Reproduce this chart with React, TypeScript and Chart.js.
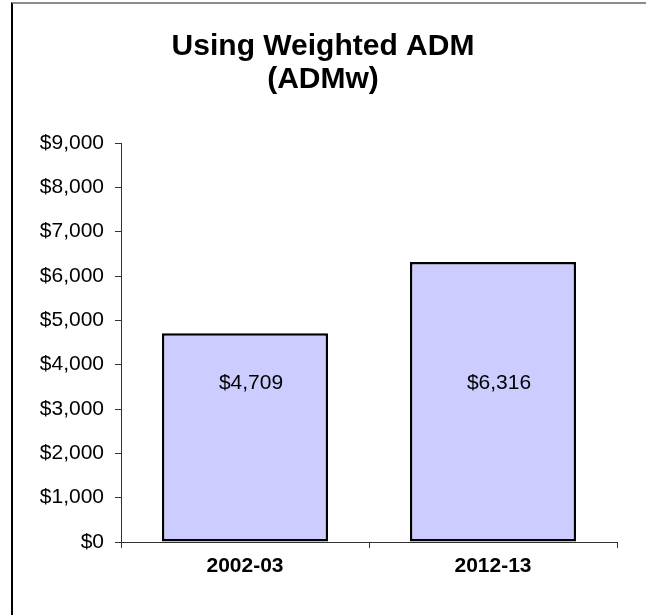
import React, { useEffect, useRef } from "react";
import { Chart, registerables } from "chart.js";

Chart.register(...registerables);

const TITLE_LINES = ["Using Weighted ADM", "(ADMw)"];
const CATEGORIES = ["2002-03", "2012-13"];
const VALUES = [4709, 6316];
const Y_MIN = 0;
const Y_MAX = 9000;
const Y_STEP = 1000;
const LABEL_LEVEL = 3590;

const FONT = '"Liberation Sans", Arial, Helvetica, sans-serif';
const fmt = (v: number) => "$" + Number(v).toLocaleString("en-US");

const valueLabels = {
  id: "valueLabels",
  afterDatasetsDraw(chart: any) {
    const { ctx } = chart;
    const meta = chart.getDatasetMeta(0);
    const y = chart.scales.y.getPixelForValue(LABEL_LEVEL);
    ctx.save();
    ctx.font = `21px ${FONT}`;
    ctx.fillStyle = "#000";
    ctx.textAlign = "center";
    ctx.textBaseline = "middle";
    meta.data.forEach((el: any, i: number) => {
      ctx.fillText(fmt(VALUES[i]), el.x + 6, y);
    });
    ctx.restore();
  },
};

export default function App() {
  const ref = useRef<HTMLCanvasElement | null>(null);

  useEffect(() => {
    if (!ref.current) return;
    const chart = new Chart(ref.current, {
      type: "bar",
      data: {
        labels: CATEGORIES,
        datasets: [
          {
            data: VALUES,
            backgroundColor: "#CCCCFF",
            borderColor: "#000000",
            borderWidth: 2.5,
            borderSkipped: false,
            categoryPercentage: 1,
            barPercentage: 0.67,
          },
        ],
      },
      options: {
        responsive: false,
        animation: false,
        layout: { padding: { left: 29, right: 29, top: 30, bottom: 36 } },
        plugins: {
          legend: { display: false },
          tooltip: { enabled: false },
          title: {
            display: true,
            text: TITLE_LINES,
            color: "#000",
            font: { family: FONT, size: 30, weight: "bold", lineHeight: 1.1 },
            padding: { top: 0, bottom: 47 },
          },
        },
        scales: {
          x: {
            grid: {
              drawOnChartArea: false,
              tickLength: 6,
              color: "#333",
              offset: true,
            },
            border: { color: "#333", width: 1 },
            ticks: {
              color: "#000",
              padding: 6,
              font: { family: FONT, size: 21, weight: "bold" },
            },
            afterFit: (s: any) => {
              s.height = 37;
            },
          },
          y: {
            min: Y_MIN,
            max: Y_MAX,
            grid: { drawOnChartArea: false, tickLength: 6, color: "#333" },
            border: { color: "#333", width: 1 },
            ticks: {
              stepSize: Y_STEP,
              color: "#000",
              padding: 11,
              font: { family: FONT, size: 21 },
              callback: (v: any) => fmt(v),
            },
            afterFit: (s: any) => {
              s.width = 92;
            },
          },
        },
      },
      plugins: [valueLabels],
    } as any);
    return () => chart.destroy();
  }, []);

  return (
    <div
      style={{
        position: "fixed",
        left: 0,
        top: 0,
        width: 646,
        height: 615,
        overflow: "hidden",
        background: "#fff",
      }}
    >
      <div
        style={{
          position: "absolute",
          left: 11,
          top: 2,
          width: 700,
          height: 700,
          borderTop: "2px solid #8c8c8c",
          borderLeft: "2px solid #000",
        }}
      />
      <canvas
        ref={ref}
        width={646}
        height={615}
        style={{ position: "absolute", left: 0, top: 0, display: "block" }}
      />
    </div>
  );
}
